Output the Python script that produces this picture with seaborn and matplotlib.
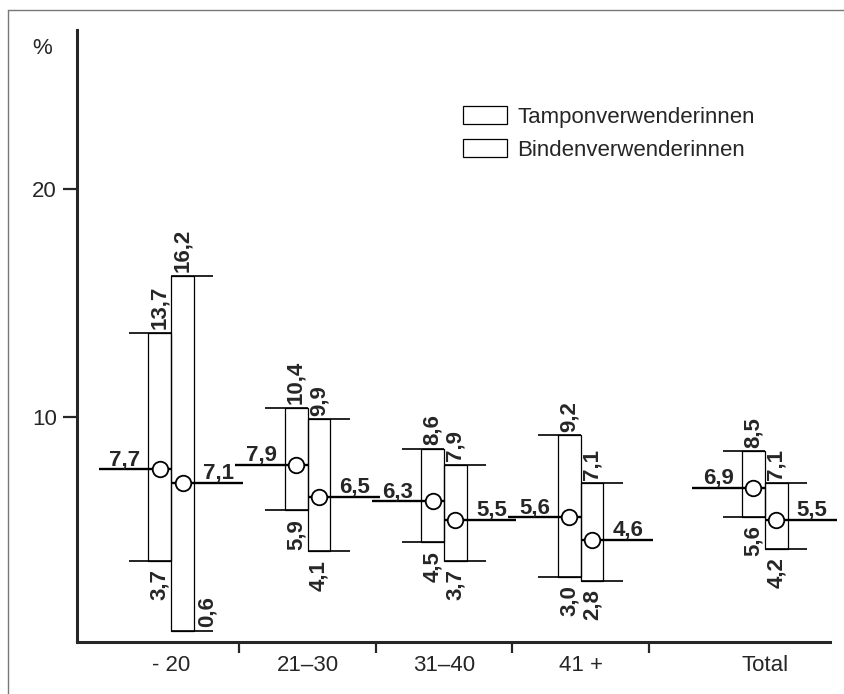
import numpy as np
import matplotlib
matplotlib.use("Agg")
import matplotlib.pyplot as plt
from matplotlib.lines import Line2D
from matplotlib.patches import Patch
import seaborn as sns

# Data (percent)
groups = ["- 20", "21–30", "31–40", "41 +", "Total"]
tampon_mean = [7.7, 7.9, 6.3, 5.6, 6.9]
tampon_low = [3.7, 5.9, 4.5, 3.0, 5.6]
tampon_high = [13.7, 10.4, 8.6, 9.2, 8.5]
binden_mean = [7.1, 6.5, 5.5, 4.6, 5.5]
binden_low = [0.6, 4.1, 3.7, 2.8, 4.2]
binden_high = [16.2, 9.9, 7.9, 7.1, 7.1]
series_names = ["Tamponverwenderinnen", "Bindenverwenderinnen"]

sns.set_style("ticks")
plt.rcParams["font.family"] = ["Liberation Sans", "DejaVu Sans"]
FS = 16

fig = plt.figure(figsize=(8.45, 6.94), dpi=100)
ax = fig.add_axes([77 / 845, (694 - 641.5) / 694, (830 - 77) / 845, (641.5 - 30) / 694])

# group centres, with an extra gap before "Total"
x_pos = np.arange(len(groups), dtype=float)
x_pos[-1] += 0.35
w = 0.168      # box width
ext = 0.14     # whisker overhang
mlen = 0.53    # mean line length


def fmt(v):
    return f"{v:.1f}".replace(".", ",")


t_low = np.array(tampon_low)
t_high = np.array(tampon_high)
b_low = np.array(binden_low)
b_high = np.array(binden_high)

# boxes
ax.bar(x_pos - w, t_high - t_low, width=w, bottom=t_low, align="edge",
       fill=False, edgecolor="black", linewidth=0.9, zorder=2)
ax.bar(x_pos, b_high - b_low, width=w, bottom=b_low, align="edge",
       fill=False, edgecolor="black", linewidth=0.9, zorder=2)

# whisker lines at low / high
ax.hlines(t_high, x_pos - w - ext, x_pos, color="black", lw=1.2, zorder=3)
ax.hlines(t_low, x_pos - w - ext, x_pos, color="black", lw=1.2, zorder=3)
ax.hlines(b_high, x_pos, x_pos + w + ext, color="black", lw=1.2, zorder=3)
ax.hlines(b_low, x_pos, x_pos + w + ext, color="black", lw=1.2, zorder=3)

# mean lines
ax.hlines(tampon_mean, x_pos - mlen, x_pos, color="black", lw=1.7, zorder=3)
ax.hlines(binden_mean, x_pos, x_pos + mlen, color="black", lw=1.7, zorder=3,
          clip_on=False)

# mean markers
sns.scatterplot(x=np.r_[x_pos - w / 2, x_pos + w / 2],
                y=np.r_[tampon_mean, binden_mean],
                marker="o", s=125, facecolor="white", edgecolor="black",
                linewidth=1.3, zorder=4, ax=ax, legend=False)

# value labels
for i, xc in enumerate(x_pos):
    tl, tc = xc - w, xc - w / 2
    bc, br = xc + w / 2, xc + w
    ax.annotate(fmt(tampon_mean[i]), (tl, tampon_mean[i]), xytext=(-5.5, 3),
                textcoords="offset points", ha="right", va="baseline",
                fontsize=FS, fontweight="bold")
    ax.annotate(fmt(binden_mean[i]), (br, binden_mean[i]), xytext=(6.5, 3),
                textcoords="offset points", ha="left", va="baseline",
                fontsize=FS, fontweight="bold")
    ax.annotate(fmt(tampon_high[i]), (tc, tampon_high[i]), xytext=(0, 2.5),
                textcoords="offset points", ha="center", va="bottom",
                rotation=90, fontsize=FS, fontweight="bold")
    ax.annotate(fmt(binden_high[i]), (bc, binden_high[i]), xytext=(0, 2.5),
                textcoords="offset points", ha="center", va="bottom",
                rotation=90, fontsize=FS, fontweight="bold")
    ax.annotate(fmt(tampon_low[i]), (tc, tampon_low[i]), xytext=(0, -6),
                textcoords="offset points", ha="center", va="top",
                rotation=90, fontsize=FS, fontweight="bold")
    if binden_low[i] < 1.5:
        ax.annotate(fmt(binden_low[i]), (br, binden_low[i]), xytext=(9.5, 3),
                    textcoords="offset points", ha="center", va="bottom",
                    rotation=90, fontsize=FS, fontweight="bold")
    else:
        ax.annotate(fmt(binden_low[i]), (bc, binden_low[i]), xytext=(0, -6),
                    textcoords="offset points", ha="center", va="top",
                    rotation=90, fontsize=FS, fontweight="bold")

# axes
ax.set_xlim(-0.689, 4.828)
ax.set_ylim(0.15, 26.97)
ax.set_yticks([10, 20])
ax.set_yticklabels(["10", "20"], fontsize=FS)
ax.set_xticks(x_pos)
ax.set_xticklabels(groups, fontsize=FS)
ax.set_xticks(x_pos[:-1] + 0.5, minor=True)
ax.tick_params(axis="x", which="major", length=0, pad=10)
ax.tick_params(axis="x", which="minor", length=8, width=1.6, direction="out")
ax.tick_params(axis="y", length=10, width=1.6, pad=4.5)
sns.despine(ax=ax)
for s in ("left", "bottom"):
    ax.spines[s].set_linewidth(2.2)

fig.text(42 / 845, 1 - 48 / 694, "%", fontsize=FS, ha="center", va="center")

# legend
handles = [Patch(facecolor="white", edgecolor="black", linewidth=0.9)
           for _ in series_names]
ax.legend(handles, series_names, loc="upper left",
          bbox_to_anchor=(0.5126, 0.8757), frameon=False, fontsize=FS,
          handlelength=2.0, handleheight=0.88, labelspacing=0.5,
          handletextpad=0.45, borderpad=0, borderaxespad=0)

# scan frame
fig.add_artist(Line2D([8 / 845, 1], [1 - 10 / 694, 1 - 10 / 694],
                      color="#777777", lw=1))
fig.add_artist(Line2D([8 / 845, 8 / 845], [0, 1 - 10 / 694],
                      color="#777777", lw=1))

fig.savefig("out.png", dpi=100)
